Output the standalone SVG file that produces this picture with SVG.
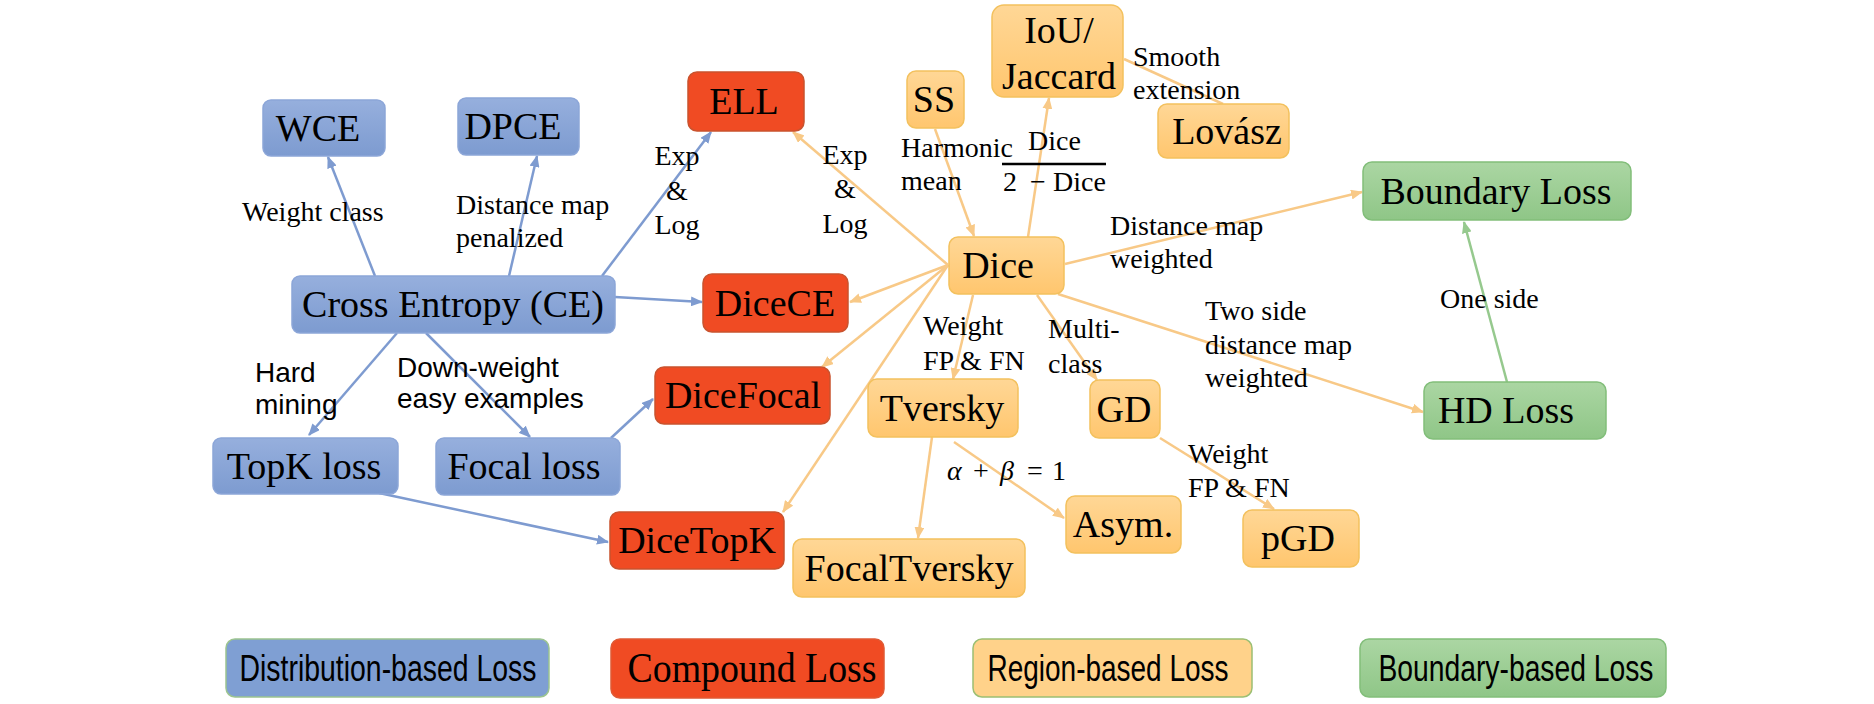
<svg xmlns="http://www.w3.org/2000/svg" width="1874" height="704" viewBox="0 0 1874 704">
<style>
.nt{font-family:"Liberation Serif","Times New Roman",serif;font-size:38px;fill:#000;text-anchor:middle}
.lb{font-family:"Liberation Serif","Times New Roman",serif;font-size:28px;fill:#000}
.lc{font-family:"Liberation Serif","Times New Roman",serif;font-size:28px;fill:#000;text-anchor:middle}
.la{font-family:"Liberation Sans",Arial,sans-serif;font-size:28px;fill:#000}
.blue{fill:url(#gB);stroke:#8CA6D8;stroke-width:1.5}
.red{fill:#F04B23;stroke:#C9532E;stroke-width:1.5}
.org{fill:url(#gO);stroke:#F3C15E;stroke-width:1.5}
.grn{fill:url(#gG);stroke:#82BE7A;stroke-width:1.5}
.cb{stroke:#7E9BD0;stroke-width:2.5;fill:none;marker-end:url(#mB)}
.co{stroke:#F8C987;stroke-width:2.5;fill:none;marker-end:url(#mO)}
.cg{stroke:#96C98E;stroke-width:2.5;fill:none;marker-end:url(#mG)}
.leg{font-family:"Liberation Sans",Arial,sans-serif;font-size:36px;fill:#000;text-anchor:middle}
</style>
<defs>
<linearGradient id="gB" x1="0" y1="0" x2="0" y2="1"><stop offset="0" stop-color="#96AFDD"/><stop offset="1" stop-color="#7D9BD0"/></linearGradient>
<linearGradient id="gO" x1="0" y1="0" x2="0" y2="1"><stop offset="0" stop-color="#FFD796"/><stop offset="1" stop-color="#FFC66E"/></linearGradient>
<linearGradient id="gG" x1="0" y1="0" x2="0" y2="1"><stop offset="0" stop-color="#ABD6A3"/><stop offset="1" stop-color="#8FC687"/></linearGradient>
<marker id="mB" markerUnits="userSpaceOnUse" markerWidth="12" markerHeight="10" refX="11" refY="5" orient="auto"><path d="M0,0 L12,5 L0,10 z" fill="#7E9BD0"/></marker>
<marker id="mO" markerUnits="userSpaceOnUse" markerWidth="12" markerHeight="10" refX="11" refY="5" orient="auto"><path d="M0,0 L12,5 L0,10 z" fill="#F8C987"/></marker>
<marker id="mG" markerUnits="userSpaceOnUse" markerWidth="12" markerHeight="10" refX="11" refY="5" orient="auto"><path d="M0,0 L12,5 L0,10 z" fill="#96C98E"/></marker>
</defs>
<rect width="1874" height="704" fill="#fff"/>

<g id="connectors">
<line class="cb" x1="375" y1="276" x2="328" y2="157"/>
<line class="cb" x1="509" y1="276" x2="537" y2="156"/>
<line class="cb" x1="602" y1="276" x2="711" y2="132"/>
<line class="cb" x1="615" y1="297" x2="702" y2="302"/>
<line class="cb" x1="397" y1="333" x2="309" y2="435"/>
<line class="cb" x1="426" y1="333" x2="530" y2="437"/>
<line class="cb" x1="611" y1="438" x2="653" y2="399"/>
<line class="cb" x1="379" y1="493" x2="608" y2="542"/>
<line class="co" x1="948" y1="265" x2="793" y2="132"/>
<line class="co" x1="935" y1="129" x2="974" y2="236"/>
<line class="co" x1="1028" y1="237" x2="1049" y2="98"/>
<line x1="1124" y1="59" x2="1223" y2="104" stroke="#F8C987" stroke-width="2.5"/>
<line class="co" x1="1065" y1="264" x2="1362" y2="192"/>
<line class="co" x1="1058" y1="294" x2="1423" y2="412"/>
<line class="co" x1="948" y1="265" x2="850" y2="302"/>
<line class="co" x1="948" y1="265" x2="822" y2="367"/>
<line class="co" x1="948" y1="265" x2="783" y2="512"/>
<line class="co" x1="973" y1="295" x2="953" y2="379"/>
<line class="co" x1="1037" y1="295" x2="1097" y2="380"/>
<line class="co" x1="932" y1="437" x2="918" y2="538"/>
<line class="co" x1="954" y1="442" x2="1064" y2="518"/>
<line class="co" x1="1160" y1="438" x2="1274" y2="509"/>
<line class="cg" x1="1507" y1="382" x2="1464" y2="222"/>
</g>

<g id="labels">
<text class="lb" x="242" y="221">Weight class</text>
<text class="lb" x="456" y="214">Distance map</text>
<text class="lb" x="456" y="247">penalized</text>
<text class="lc" x="677" y="165">Exp</text>
<text class="lc" x="677" y="200">&amp;</text>
<text class="lc" x="677" y="234">Log</text>
<text class="lc" x="845" y="164">Exp</text>
<text class="lc" x="845" y="198">&amp;</text>
<text class="lc" x="845" y="233">Log</text>
<text class="lb" x="901" y="157">Harmonic</text>
<text class="lb" x="901" y="190">mean</text>
<text class="lb" x="1028" y="150">Dice</text>
<line x1="1002" y1="164" x2="1106" y2="164" stroke="#000" stroke-width="2.5"/>
<text class="lb" y="191"><tspan x="1003">2</tspan><tspan x="1030">−</tspan><tspan x="1053">Dice</tspan></text>
<text class="lb" x="1133" y="66">Smooth</text>
<text class="lb" x="1133" y="99">extension</text>
<text class="lb" x="1110" y="235">Distance map</text>
<text class="lb" x="1110" y="268">weighted</text>
<text class="lb" x="923" y="335">Weight</text>
<text class="lb" x="923" y="370">FP &amp; FN</text>
<text class="lb" x="1048" y="338">Multi-</text>
<text class="lb" x="1048" y="373">class</text>
<text class="lb" x="1205" y="320">Two side</text>
<text class="lb" x="1205" y="354">distance map</text>
<text class="lb" x="1205" y="387">weighted</text>
<text class="lb" x="1440" y="308">One side</text>
<text class="lb" y="480"><tspan x="947" font-style="italic">α</tspan><tspan x="973">+</tspan><tspan x="1000" font-style="italic">β</tspan><tspan x="1027">=</tspan><tspan x="1052">1</tspan></text>
<text class="lb" x="1188" y="463">Weight</text>
<text class="lb" x="1188" y="497">FP &amp; FN</text>
<text class="la" x="255" y="382">Hard</text>
<text class="la" x="255" y="414">mining</text>
<text class="la" x="397" y="377">Down-weight</text>
<text class="la" x="397" y="408">easy examples</text>
</g>

<g id="WCE"><rect class="blue" x="263" y="100" width="122" height="56" rx="8"/><text class="nt" x="318" y="141">WCE</text></g>
<g id="DPCE"><rect class="blue" x="458" y="98" width="121" height="57" rx="8"/><text class="nt" x="513" y="139">DPCE</text></g>
<g id="ELL"><rect class="red" x="688" y="72" width="116" height="59" rx="9"/><text class="nt" x="744" y="114">ELL</text></g>
<g id="CE"><rect class="blue" x="292" y="276" width="323" height="57" rx="8"/><text class="nt" x="453" y="317">Cross Entropy (CE)</text></g>
<g id="DiceCE"><rect class="red" x="703" y="274" width="145" height="58" rx="9"/><text class="nt" x="775" y="316">DiceCE</text></g>
<g id="DiceFocal"><rect class="red" x="655" y="367" width="175" height="57" rx="9"/><text class="nt" x="743" y="408">DiceFocal</text></g>
<g id="TopK"><rect class="blue" x="213" y="438" width="185" height="56" rx="8"/><text class="nt" x="304" y="479">TopK loss</text></g>
<g id="Focal"><rect class="blue" x="436" y="438" width="184" height="57" rx="8"/><text class="nt" x="524" y="479">Focal loss</text></g>
<g id="DiceTopK"><rect class="red" x="610" y="512" width="174" height="57" rx="9"/><text class="nt" x="697" y="553">DiceTopK</text></g>
<g id="SS"><rect class="org" x="907" y="71" width="57" height="57" rx="9"/><text class="nt" x="934" y="112">SS</text></g>
<g id="IoU"><rect class="org" x="992" y="5" width="131" height="92" rx="12"/><text class="nt" x="1059" y="43">IoU/</text><text class="nt" x="1059" y="89">Jaccard</text></g>
<g id="Lovasz"><rect class="org" x="1158" y="104" width="131" height="54" rx="9"/><text class="nt" x="1227" y="144">Lovász</text></g>
<g id="Dice"><rect class="org" x="949" y="237" width="115" height="57" rx="9"/><text class="nt" x="998" y="278">Dice</text></g>
<g id="Tversky"><rect class="org" x="868" y="379" width="150" height="58" rx="9"/><text class="nt" x="942" y="421">Tversky</text></g>
<g id="GD"><rect class="org" x="1090" y="380" width="70" height="58" rx="9"/><text class="nt" x="1124" y="422">GD</text></g>
<g id="Asym"><rect class="org" x="1066" y="496" width="115" height="57" rx="9"/><text class="nt" x="1123" y="537">Asym.</text></g>
<g id="pGD"><rect class="org" x="1243" y="510" width="116" height="57" rx="9"/><text class="nt" x="1298" y="551">pGD</text></g>
<g id="FocalTversky"><rect class="org" x="793" y="539" width="232" height="58" rx="9"/><text class="nt" x="909" y="581">FocalTversky</text></g>
<g id="Boundary"><rect class="grn" x="1363" y="162" width="268" height="58" rx="9"/><text class="nt" x="1496" y="204">Boundary Loss</text></g>
<g id="HD"><rect class="grn" x="1424" y="382" width="182" height="57" rx="9"/><text class="nt" x="1506" y="423">HD Loss</text></g>

<g id="legend">
<g id="leg-dist"><rect x="226" y="639" width="323" height="58" rx="9" fill="#7F9FD3" stroke="#9CC490" stroke-width="1.5"/><text class="leg" x="388" y="681" textLength="297" lengthAdjust="spacingAndGlyphs">Distribution-based Loss</text></g>
<g id="leg-comp"><rect x="611" y="639" width="273" height="59" rx="9" fill="#F04B23" stroke="#E05A35" stroke-width="1.5"/><text x="752" y="682" font-family="Liberation Serif, Times New Roman, serif" font-size="43" text-anchor="middle" textLength="249" lengthAdjust="spacingAndGlyphs">Compound Loss</text></g>
<g id="leg-reg"><rect x="973" y="639" width="279" height="58" rx="9" fill="#FFD28A" stroke="#9CBF73" stroke-width="1.5"/><text class="leg" x="1108" y="681" textLength="241" lengthAdjust="spacingAndGlyphs">Region-based Loss</text></g>
<g id="leg-bnd"><rect x="1360" y="639" width="306" height="58" rx="9" fill="url(#gG)" stroke="#82BE7A" stroke-width="1.5"/><text class="leg" x="1516" y="681" textLength="275" lengthAdjust="spacingAndGlyphs">Boundary-based Loss</text></g>
</g>
</svg>
